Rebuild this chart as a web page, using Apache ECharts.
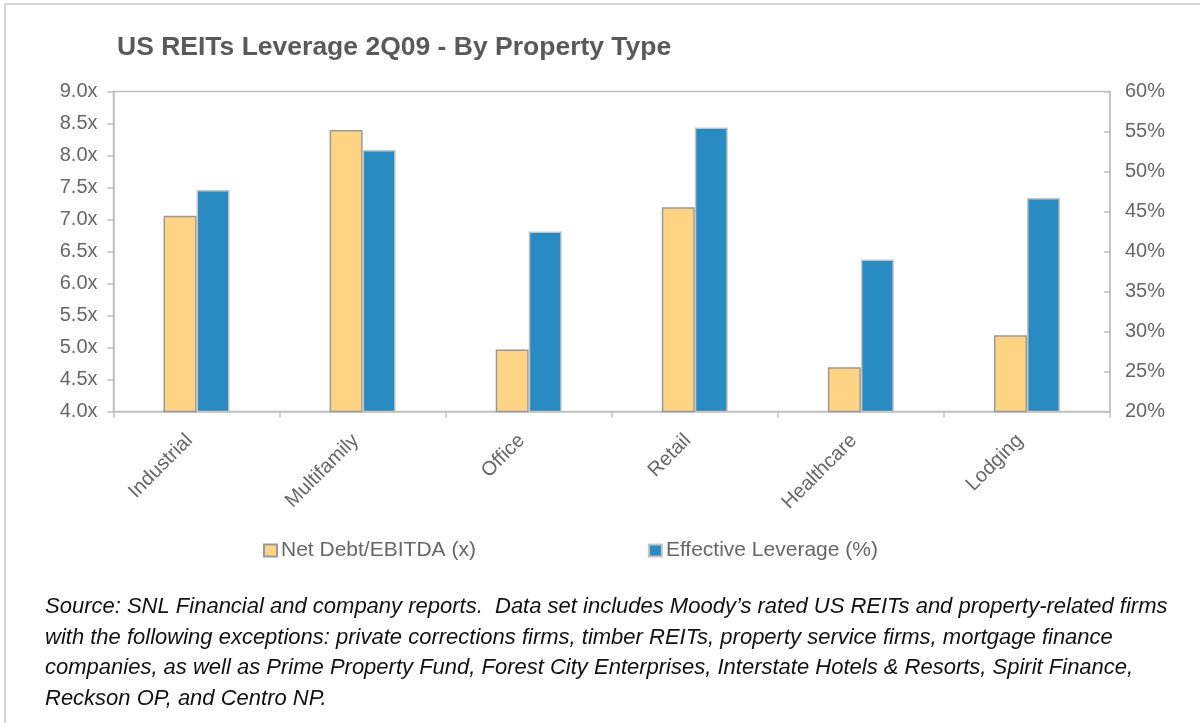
<!DOCTYPE html>
<html>
<head>
<meta charset="utf-8">
<script src="https://cdn.jsdelivr.net/npm/echarts@6/dist/echarts.min.js"></script>
<style>
    html, body { margin: 0; padding: 0; background: #fff; }
    #chart { width: 1200px; height: 723px; }
</style>
</head>
<body>
<div id="chart"></div>
<script>
// property types on the x axis
var categories = ['Industrial', 'Multifamily', 'Office', 'Retail', 'Healthcare', 'Lodging'];
// left axis, times
var netDebtEbitda = [7.06, 8.40, 4.97, 7.19, 4.69, 5.19];
// right axis, percent
var effectiveLeverage = [47.7, 52.7, 42.5, 55.5, 39.0, 46.7];

var seriesNames = ['Net Debt/EBITDA (x)', 'Effective Leverage (%)'];

var sourceLines = [
    'Source: SNL Financial and company reports.  Data set includes Moody\u2019s rated US REITs and property-related firms',
    'with the following exceptions: private corrections firms, timber REITs, property service firms, mortgage finance',
    'companies, as well as Prime Property Fund, Forest City Enterprises, Interstate Hotels & Resorts, Spirit Finance,',
    'Reckson OP, and Centro NP.'
];

var font = 'Liberation Sans, Arial, sans-serif';
var axisColor = '#c0c0c0';
var labelColor = '#666666';

var chart = echarts.init(document.getElementById('chart'));

var graphics = [
    { type: 'line', shape: { x1: 5, y1: 4, x2: 1200, y2: 4 }, style: { stroke: '#d4d4d4', lineWidth: 2 } },
    { type: 'line', shape: { x1: 5, y1: 4, x2: 5, y2: 723 }, style: { stroke: '#d4d4d4', lineWidth: 2 } }
];
sourceLines.forEach(function (t, i) {
    graphics.push({
        type: 'text',
        left: 45,
        top: 596 + i * 30.5,
        style: {
            text: t,
            font: 'italic 22px ' + font,
            fill: '#111111'
        }
    });
});

chart.setOption({
    animation: false,
    backgroundColor: '#ffffff',
    title: {
        text: 'US REITs Leverage 2Q09 - By Property Type',
        left: 112,
        top: 29,
        textStyle: {
            fontFamily: font,
            fontSize: 26.5,
            fontWeight: 'bold',
            color: '#595959'
        }
    },
    legend: {
        left: 258,
        top: 535,
        itemWidth: 13,
        itemHeight: 12,
        itemGap: 172,
        icon: 'rect',
        textStyle: {
            fontFamily: font,
            fontSize: 21,
            color: labelColor,
            padding: [0, 0, 0, -1]
        },
        data: seriesNames
    },
    grid: {
        left: 113.5,
        right: 90,
        top: 91.5,
        bottom: 311.5,
        show: true,
        borderColor: axisColor,
        borderWidth: 1.5
    },
    xAxis: {
        type: 'category',
        data: categories,
        axisLine: { lineStyle: { color: axisColor, width: 1.5 } },
        axisTick: { show: true, length: 6, lineStyle: { color: axisColor, width: 1.5 } },
        axisLabel: {
            rotate: 45,
            margin: 19,
            padding: [0, 10, 0, 0],
            fontFamily: font,
            fontSize: 20,
            color: labelColor
        }
    },
    yAxis: [
        {
            type: 'value',
            min: 4,
            max: 9,
            interval: 0.5,
            position: 'left',
            axisLine: { show: true, lineStyle: { color: axisColor, width: 1.5 } },
            axisTick: { show: true, length: 6, lineStyle: { color: axisColor, width: 1.5 } },
            splitLine: { show: false },
            axisLabel: {
                margin: 16,
                fontFamily: font,
                fontSize: 20,
                color: labelColor,
                formatter: function (v) { return v.toFixed(1) + 'x'; }
            }
        },
        {
            type: 'value',
            min: 20,
            max: 60,
            interval: 5,
            position: 'right',
            axisLine: { show: true, lineStyle: { color: axisColor, width: 1.5 } },
            axisTick: { show: true, inside: true, length: 6, lineStyle: { color: axisColor, width: 1.5 } },
            splitLine: { show: false },
            axisLabel: {
                margin: 15,
                fontFamily: font,
                fontSize: 20,
                color: labelColor,
                formatter: function (v) { return v + '%'; }
            }
        }
    ],
    series: [
        {
            name: seriesNames[0],
            type: 'bar',
            yAxisIndex: 0,
            data: netDebtEbitda,
            barWidth: 33,
            barGap: '0%',
            itemStyle: {
                color: '#ffd585',
                borderColor: '#999999',
                borderWidth: 1.5
            }
        },
        {
            name: seriesNames[1],
            type: 'bar',
            yAxisIndex: 1,
            data: effectiveLeverage,
            barWidth: 33,
            barGap: '0%',
            itemStyle: {
                color: '#2a8ac2',
                borderColor: '#c4c4c4',
                borderWidth: 1.5
            }
        }
    ],
    graphic: graphics
});
</script>
</body>
</html>
